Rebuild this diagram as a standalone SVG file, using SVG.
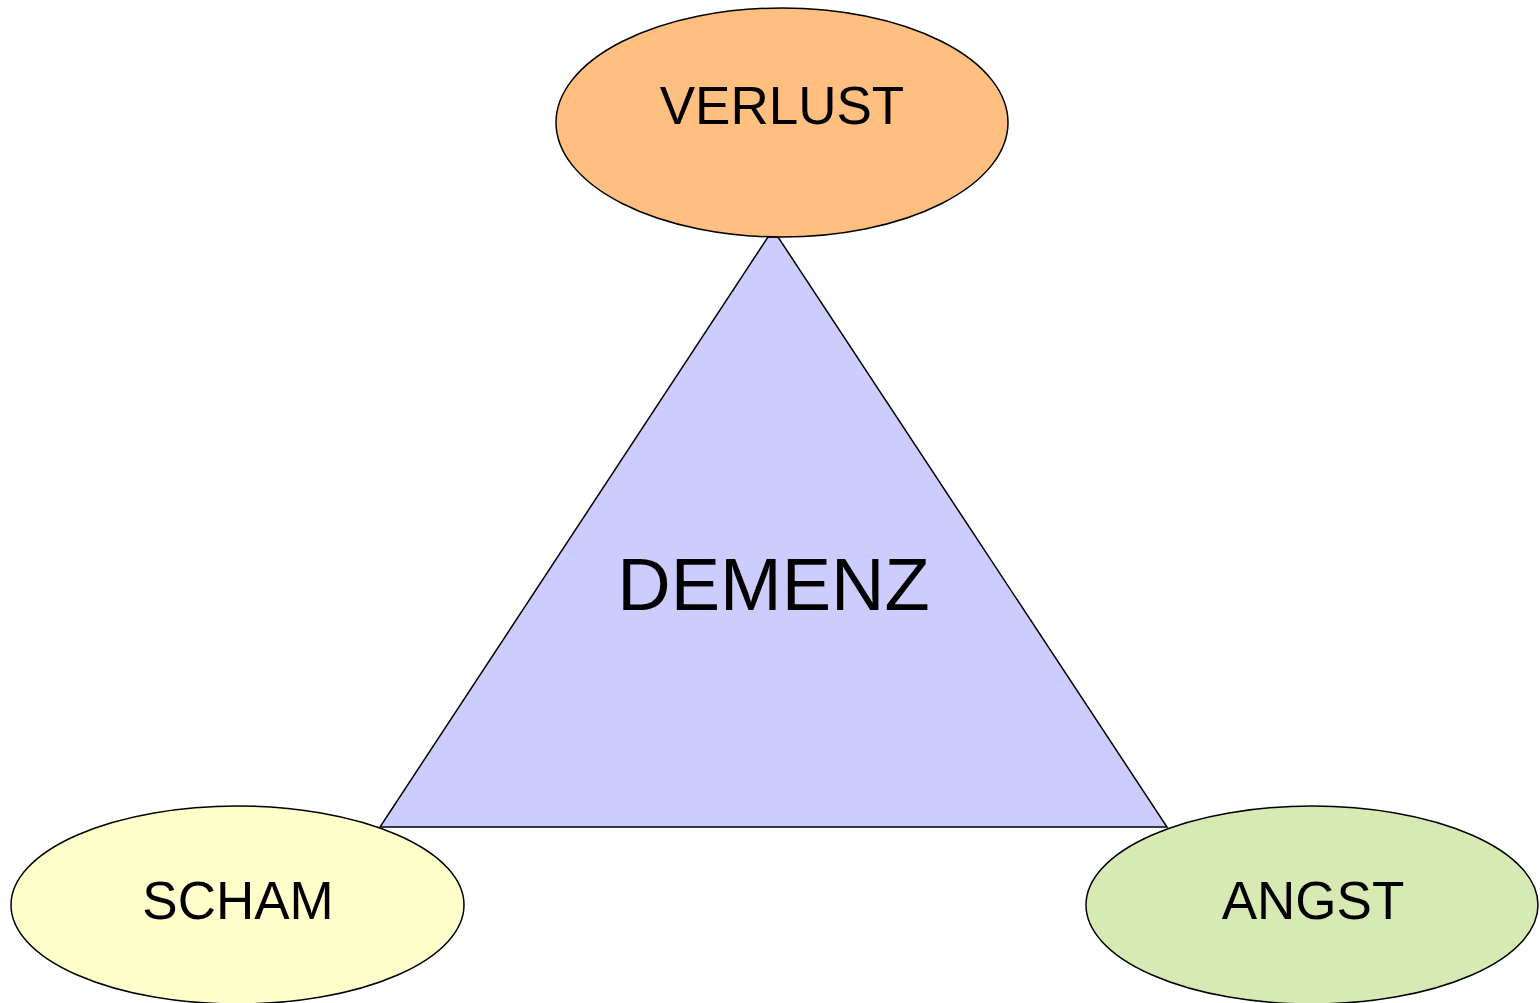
<svg xmlns="http://www.w3.org/2000/svg" width="1540" height="1003" viewBox="0 0 1540 1003">
<style>
.s{stroke:#000;stroke-width:1.5}
.t{font-family:"Liberation Sans",Arial,sans-serif;fill:#000;text-anchor:middle}
</style>
<rect width="1540" height="1003" fill="#fff"/>
<g id="demenz">
<polygon class="s" fill="#ccccff" points="768,237 778,237 1167,827 380,827"/>
<text class="t" x="773.5" y="610" font-size="74">DEMENZ</text>
</g>
<g id="verlust">
<ellipse class="s" fill="#ffbf80" cx="782" cy="122.5" rx="226" ry="114.5"/>
<text class="t" x="782" y="124" font-size="53">VERLUST</text>
</g>
<g id="scham">
<ellipse class="s" fill="#ffffcc" cx="237.5" cy="905" rx="226.5" ry="99"/>
<text class="t" x="238" y="919" font-size="53">SCHAM</text>
</g>
<g id="angst">
<ellipse class="s" fill="#d8eab4" cx="1312" cy="905" rx="226" ry="99"/>
<text class="t" x="1313" y="919" font-size="53">ANGST</text>
</g>
<g id="connectors"></g>
</svg>
